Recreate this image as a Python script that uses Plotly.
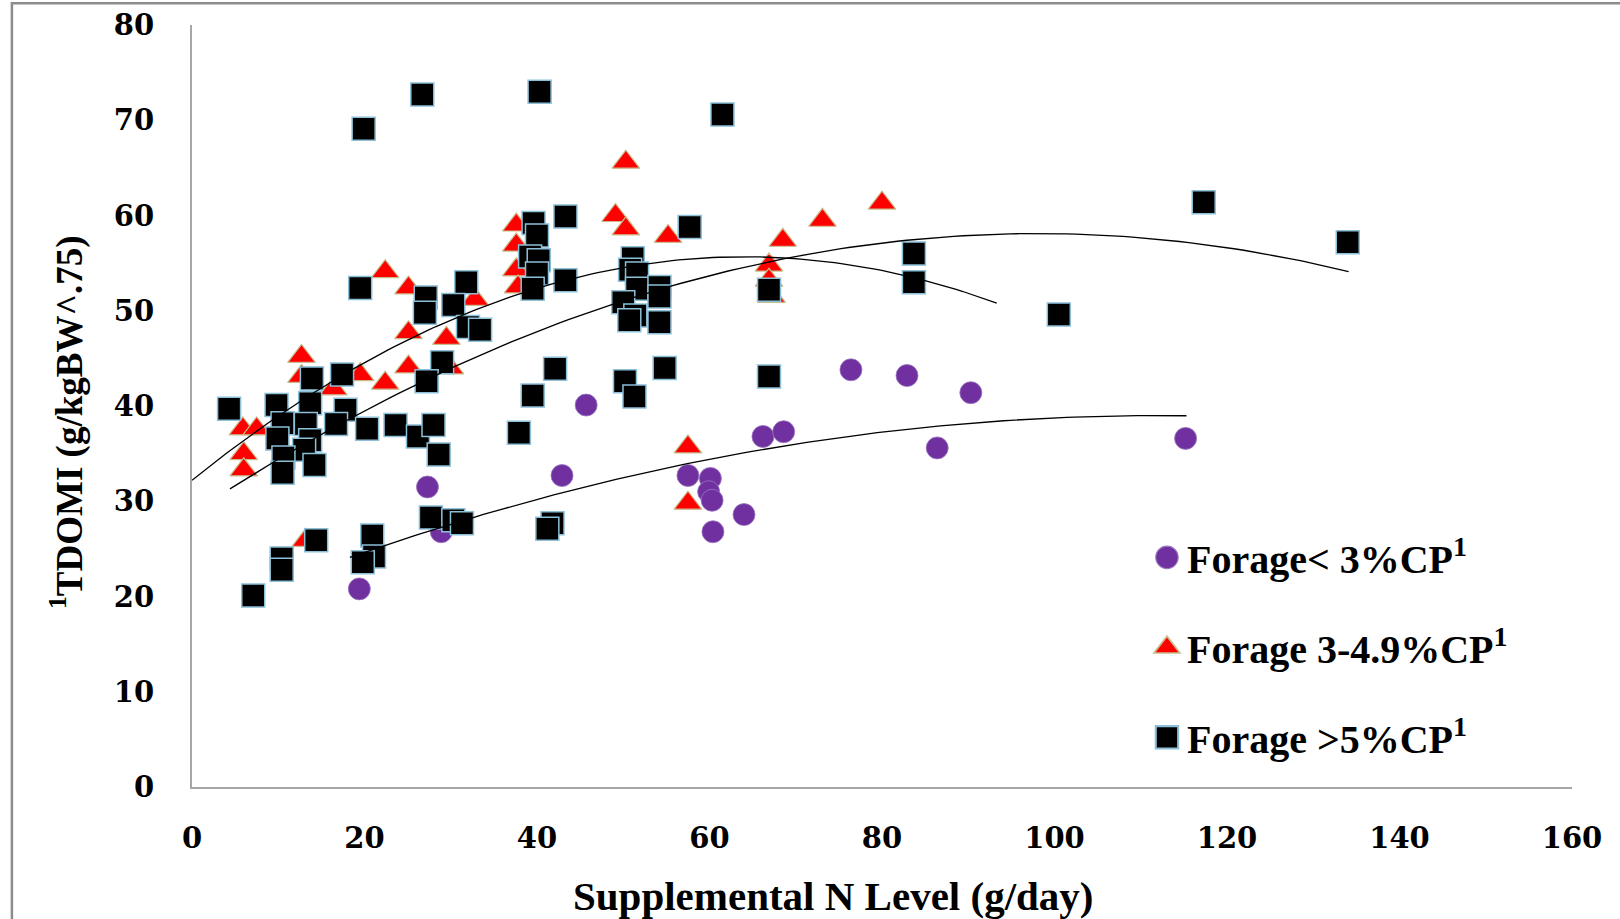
import numpy as np
import plotly.graph_objects as go

# ---- data ----
low_cp_x = [19.4, 27.3, 28.9, 42.9, 45.7, 57.5, 60.1, 59.9, 60.3, 60.4, 64.0, 66.2, 68.6, 76.4, 82.9, 86.4, 90.3, 115.2]
low_cp_y = [20.8, 31.5, 26.8, 32.7, 40.1, 32.7, 32.4, 31.0, 30.1, 26.8, 28.6, 36.8, 37.3, 43.8, 43.2, 35.6, 41.4, 36.6]

mid_cp_x = [6.0, 6.0, 5.9, 7.5, 12.7, 12.7, 13.2, 16.4, 19.5, 22.4, 22.4, 25.1, 25.1, 25.1, 29.5, 29.9, 32.8,
            37.6, 37.6, 37.6, 37.8, 49.1, 50.3, 50.3, 55.2, 57.5, 57.5, 66.9, 66.9, 67.2, 68.5, 73.1, 80.0]
mid_cp_y = [35.0, 33.3, 37.6, 37.6, 45.2, 43.1, 25.9, 41.8, 43.3, 54.1, 42.4, 52.4, 47.7, 44.1, 47.1, 44.0, 51.2,
            59.0, 56.9, 54.3, 52.5, 60.0, 65.6, 58.6, 57.8, 35.7, 29.8, 54.8, 53.2, 51.5, 57.4, 59.5, 61.3]

high_cp_x = [26.7, 40.3, 19.9, 61.5, 117.3, 134.0, 100.5, 83.7, 83.7, 66.9, 66.9, 57.7, 43.3, 43.3,
             39.6, 40.0, 39.2, 40.2, 40.0, 39.5, 51.1, 50.8, 51.6, 51.6, 54.2, 54.2, 50.0, 51.4, 50.7, 54.2,
             42.1, 50.2, 51.3, 54.8, 39.5, 37.9, 41.8, 41.2, 19.5, 27.1, 27.0, 31.8, 30.3, 32.0, 33.4, 29.0,
             17.4, 13.9, 27.2, 4.3, 9.8, 13.7, 17.8, 10.5, 13.2, 16.7, 20.3, 23.6, 26.2, 28.0, 9.9, 13.7,
             13.0, 10.6, 28.6, 14.2, 10.5, 27.7, 30.3, 31.3, 14.4, 20.9, 21.1, 19.8, 10.4, 10.4, 7.1]
high_cp_y = [72.7, 73.0, 69.1, 70.6, 61.4, 57.2, 49.6, 56.0, 53.0, 52.2, 43.1, 58.8, 59.9, 53.2,
             59.2, 57.9, 55.7, 55.3, 53.9, 52.3, 55.5, 54.3, 53.9, 52.3, 52.5, 51.5, 50.9, 49.5, 49.0, 48.8,
             43.9, 42.6, 41.0, 44.0, 41.1, 37.2, 27.7, 27.1, 52.4, 51.4, 49.8, 53.0, 50.6, 48.3, 48.0, 44.6,
             43.3, 42.9, 42.6, 39.7, 40.1, 40.3, 39.6, 38.2, 38.1, 38.1, 37.6, 38.0, 36.8, 38.0, 36.6, 36.4,
             35.4, 34.6, 34.9, 33.8, 33.0, 28.3, 28.0, 27.7, 25.9, 26.4, 24.2, 23.6, 24.0, 22.8, 20.1]

series_names = ["Forage< 3%CP<sup>1</sup>", "Forage 3-4.9%CP<sup>1</sup>", "Forage >5%CP<sup>1</sup>"]

# quadratic trendlines: coefficients [x^2, x, const] and x-span
trend_mid_coef = [-0.005711, 0.7322, 32.2]
trend_mid_span = [0.0, 93.3]
trend_high_coef = [-0.003059, 0.5996, 28.72]
trend_high_span = [4.4, 134.1]
trend_low_coef = [-0.001697, 0.3801, 17.71]
trend_low_span = [18.3, 115.3]

x_ticks = [0, 20, 40, 60, 80, 100, 120, 140, 160]
y_ticks = [0, 10, 20, 30, 40, 50, 60, 70, 80]
x_title = "Supplemental N Level (g/day)"
y_title = "<sup>1</sup>TDOMI (g/kgBW^.75)"

# ---- figure ----
fig = go.Figure()

fig.add_trace(go.Scatter(
    x=low_cp_x, y=low_cp_y, mode="markers", name="<b>" + series_names[0] + "</b>", legendgroup="a",
    marker=dict(symbol="circle", size=22, color="#7030A0", line=dict(color="#9a78c0", width=0.8))))
fig.add_trace(go.Scatter(
    x=mid_cp_x, y=mid_cp_y, mode="markers", name="<b>" + series_names[1] + "</b>", legendgroup="b",
    marker=dict(symbol="triangle-up", size=24, color="#FF0000", line=dict(color="#C8BC8C", width=1.2))))
fig.add_trace(go.Scatter(
    x=high_cp_x, y=high_cp_y, mode="markers", name="<b>" + series_names[2] + "</b>", legendgroup="c",
    marker=dict(symbol="square", size=23, color="#000000", line=dict(color="#8CC0D8", width=1.5))))

for coef, span in [(trend_mid_coef, trend_mid_span), (trend_high_coef, trend_high_span),
                   (trend_low_coef, trend_low_span)]:
    xs = np.linspace(span[0], span[1], 120)
    ys = np.polyval(coef, xs)
    fig.add_trace(go.Scatter(x=xs, y=ys, mode="lines", showlegend=False, hoverinfo="skip",
                             line=dict(color="#000000", width=1.3)))

axis_font = dict(family="DejaVu Serif", size=29, color="#000000")
fig.update_layout(
    width=1620, height=919,
    margin=dict(l=192, r=48, t=25, b=132, autoexpand=False),
    paper_bgcolor="white", plot_bgcolor="white",
    showlegend=True,
    legend=dict(x=0.692, y=0.344, xanchor="left", yanchor="top", bgcolor="rgba(0,0,0,0)",
                font=dict(family="Liberation Serif", size=40, color="#000000"),
                tracegroupgap=35, itemsizing="trace"),
    xaxis=dict(range=[0, 160], tickvals=x_ticks, ticktext=[f"<b>{v}</b>" for v in x_ticks],
               showgrid=False, zeroline=False, showline=True, linecolor="#A6A6A6", linewidth=2,
               ticks="", ticklabelstandoff=24, tickfont=axis_font, automargin=False),
    yaxis=dict(range=[0, 80], tickvals=y_ticks, ticktext=[f"<b>{v}</b>" for v in y_ticks],
               showgrid=False, zeroline=False, showline=True, linecolor="#A6A6A6", linewidth=2,
               ticks="", ticklabelstandoff=30, tickfont=axis_font, automargin=False),
)

fig.add_annotation(text="<b>" + x_title + "</b>", xref="paper", yref="paper", x=0.4646, y=-0.1433,
                   xanchor="center", yanchor="middle", showarrow=False,
                   font=dict(family="Liberation Serif", size=41, color="#000000"))
fig.add_annotation(text="<b>" + y_title + "</b>", xref="paper", yref="paper", x=-0.0905, y=0.479,
                   xanchor="center", yanchor="middle", showarrow=False, textangle=-90,
                   font=dict(family="Liberation Serif", size=37, color="#000000"))

# outer chart frame (left and top edges visible)
fig.add_shape(type="path", xref="paper", yref="paper",
              path="M -0.1305,-0.3 L -0.1305,1.0286 L 1.2,1.0286",
              line=dict(color="#8C8C8C", width=2.5), layer="below")

post = (
    "document.body.style.margin='0';"
    "document.querySelectorAll('.legendpoints path.scatterpts').forEach(function(p){"
    "var t=p.getAttribute('transform')||'';p.setAttribute('transform',t+' scale(1.4)');});"
)
fig.write_html("out.html", post_script=post, config={"displayModeBar": False})
